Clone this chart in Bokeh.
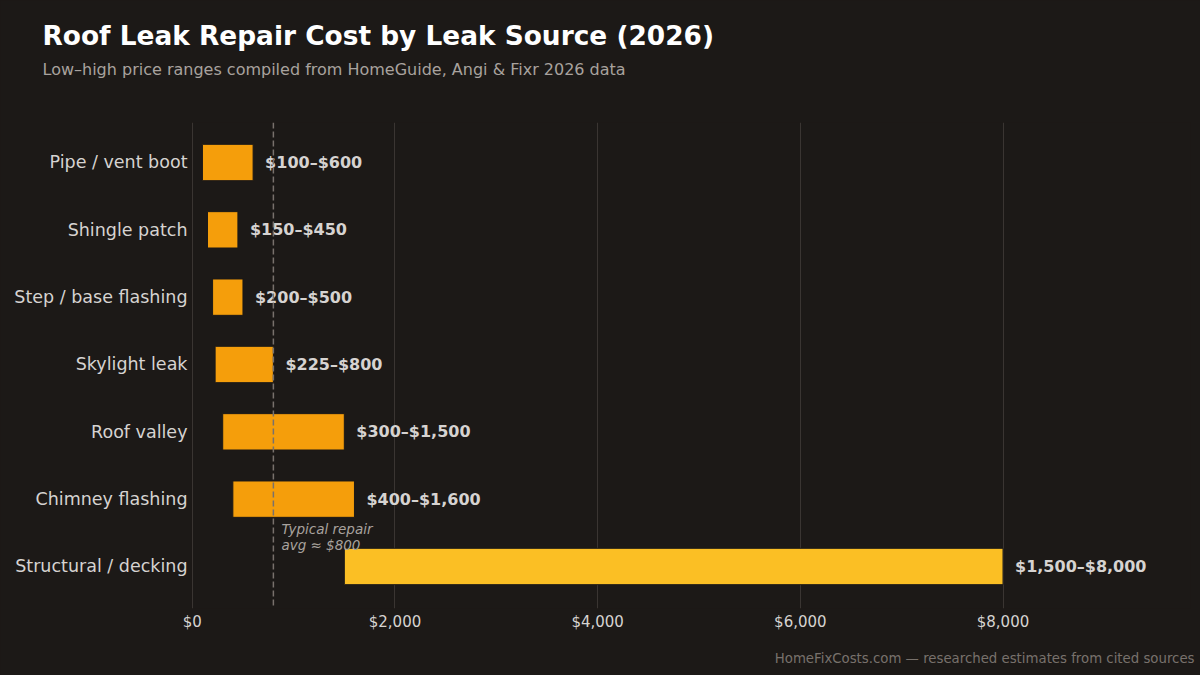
from bokeh.plotting import figure
from bokeh.models import (ColumnDataSource, Range1d, FixedTicker, NumeralTickFormatter,
                          Label, Span, Title)
from bokeh.core.properties import value
from bokeh.embed import file_html
from bokeh.resources import INLINE

# ---- data ----
categories = ["Pipe / vent boot", "Shingle patch", "Step / base flashing", "Skylight leak",
              "Roof valley", "Chimney flashing", "Structural / decking"]
low = [100, 150, 200, 225, 300, 400, 1500]
high = [600, 450, 500, 800, 1500, 1600, 8000]
bar_colors = ["#f59e0b"] * 6 + ["#fbbf24"]
x_ticks = [0, 2000, 4000, 6000, 8000]
typical_avg = 800

BG = "#1c1917"
FONT = "DejaVu Sans"

ypos = list(range(len(categories)))
labels = ["${:,}\u2013${:,}".format(a, b) for a, b in zip(low, high)]
src = ColumnDataSource(dict(y=ypos, low=low, high=high, color=bar_colors, label=labels))

p = figure(width=1200, height=675, output_backend="svg", toolbar_location=None,
           x_range=Range1d(-8, 9850), y_range=Range1d(6.624, -0.594),
           title_location=None,
           min_border_left=191, min_border_right=10, min_border_top=122, min_border_bottom=67)
p.background_fill_color = BG
p.border_fill_color = BG
p.outline_line_color = None
p.styles = {"background-color": BG}

p.hbar(y="y", left="low", right="high", height=0.54, fill_color="color",
       line_color=BG, line_width=1, source=src)
p.text(x="high", y="y", text="label", x_offset=12, text_baseline="middle", text_align="left",
       text_font=value(FONT), text_font_style="bold", text_font_size="16px",
       text_color="#d6d3d1", source=src)

p.add_layout(Span(location=typical_avg, dimension="height", line_color="#78716c",
                  line_dash="6 3", line_width=1.5))
p.add_layout(Label(x=typical_avg, y=5.33, x_offset=8, text="Typical repair\navg \u2248 $800",
                   text_font=FONT, text_font_style="italic", text_font_size="13.5px",
                   text_color="#a8a29e", text_baseline="top", text_line_height=1.0))

# axes
p.xaxis.ticker = FixedTicker(ticks=x_ticks)
p.xaxis.formatter = NumeralTickFormatter(format="$0,0")
p.xaxis.axis_line_color = None
p.xaxis.major_tick_line_color = None
p.xaxis.minor_tick_line_color = None
p.xaxis.major_tick_out = 0
p.xaxis.minor_tick_out = 0
p.xaxis.major_label_text_font = FONT
p.xaxis.major_label_text_font_size = "15px"
p.xaxis.major_label_text_color = "#d6d3d1"
p.xaxis.major_label_standoff = 4
p.xaxis.axis_label = " "
p.xaxis.axis_label_text_font_size = "1px"
p.xaxis.axis_label_standoff = 1

p.yaxis.ticker = FixedTicker(ticks=ypos)
p.yaxis.major_label_overrides = {i: c for i, c in zip(ypos, categories)}
p.yaxis.axis_line_color = None
p.yaxis.major_tick_line_color = None
p.yaxis.minor_tick_line_color = None
p.yaxis.major_tick_out = 0
p.yaxis.minor_tick_out = 0
p.yaxis.major_label_text_font = FONT
p.yaxis.major_label_text_font_size = "17.5px"
p.yaxis.major_label_text_color = "#d6d3d1"
p.yaxis.major_label_standoff = 4

p.xgrid.ticker = FixedTicker(ticks=x_ticks)
p.xgrid.grid_line_color = "#3a3532"
p.xgrid.grid_line_width = 1
p.ygrid.grid_line_color = None

# titles (index 0 of "above" is closest to the frame)
p.add_layout(Title(text=" ", align="left", standoff=41, text_font_size="1px",
                   text_color=BG), "above")
p.add_layout(Title(text="Low\u2013high price ranges compiled from HomeGuide, Angi & Fixr 2026 data",
                   align="left", offset=-149, standoff=0,
                   text_font=FONT, text_font_style="normal", text_font_size="16px",
                   text_color="#a8a29e"), "above")
p.add_layout(Title(text="Roof Leak Repair Cost by Leak Source (2026)",
                   align="left", offset=-149, standoff=13,
                   text_font=FONT, text_font_style="bold", text_font_size="26.4px",
                   text_color="#ffffff"), "above")
p.add_layout(Title(text="HomeFixCosts.com \u2014 researched estimates from cited sources",
                   align="right", offset=-4, standoff=20,
                   text_font=FONT, text_font_style="normal", text_font_size="13.3px",
                   text_color="#78716c"), "below")

open("out.html", "w").write(file_html(p, INLINE))
